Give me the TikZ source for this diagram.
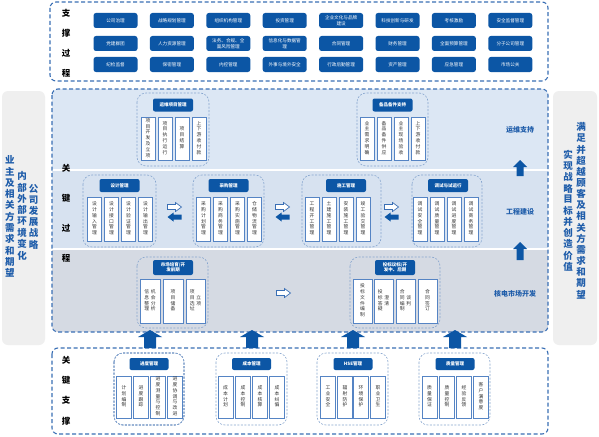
\documentclass[tikz,border=0pt]{standalone}
\usepackage{fontspec}
\setmainfont{Noto Sans CJK SC}
\definecolor{btnblue}{HTML}{0C56A5}
\definecolor{txtblue}{HTML}{1F5DAA}
\definecolor{grpline}{HTML}{86A5CE}
\definecolor{outline}{HTML}{3A6FB5}
\definecolor{colline}{HTML}{5584C4}
\definecolor{bandA}{HTML}{DCE7F4}
\definecolor{bandB}{HTML}{D7E2F0}
\definecolor{bandC}{HTML}{D5DAE3}
\definecolor{sidegray}{HTML}{EFEFEF}
\definecolor{coltext}{HTML}{333333}
\ExplSyntaxOn
\NewDocumentCommand\vtext{m}{
  \tl_set:Nx \l_tmpa_tl {#1}
  \tl_clear:N \l_tmpb_tl
  \tl_map_inline:Nn \l_tmpa_tl
    { \tl_if_empty:NF \l_tmpb_tl { \tl_put_right:Nn \l_tmpb_tl {\\} }
      \tl_put_right:Nn \l_tmpb_tl {##1} }
  \begin{tabular}{@{}c@{}} \l_tmpb_tl \end{tabular}
}
\ExplSyntaxOff
\newcommand\arrup[6]{% x, tip y, bottom y, head half, stem half, style
  \path[#6] (#1,#2) -- ({#1+#4},{#2+7}) -- ({#1+#5},{#2+7}) -- ({#1+#5},#3)
    -- ({#1-#5},#3) -- ({#1-#5},{#2+7}) -- ({#1-#4},{#2+7}) -- cycle;}
\newcommand\arrh[4]{% x center, y center, direction, style
  \path[#4] ({#1+7*(#3)},#2) -- ({#1+1*(#3)},{#2-4.5}) -- ({#1+1*(#3)},{#2-2.5})
    -- ({#1-7*(#3)},{#2-2.5}) -- ({#1-7*(#3)},{#2+2.5}) -- ({#1+1*(#3)},{#2+2.5})
    -- ({#1+1*(#3)},{#2+4.5}) -- cycle;}
\begin{document}
\begin{tikzpicture}[x=1pt,y=-1pt,
  btn/.style={fill=btnblue, rounded corners=2.5pt, text=white, font=\fontsize{4.6}{5.6}\selectfont, minimum width=44pt, minimum height=15pt, inner sep=0pt, align=center},
  hdr/.style={fill=btnblue, rounded corners=2pt, text=white, font=\fontsize{4.5}{5.5}\selectfont\bfseries, minimum width=40pt, minimum height=13pt, inner sep=0pt, align=center},
  colbox/.style={draw=colline, line width=0.8pt, fill=white, text=coltext, font=\fontsize{4.8}{5.8}\selectfont, inner sep=0pt, align=center},
  grp/.style={draw=grpline, line width=0.6pt, dash pattern=on 2pt off 1.5pt, rounded corners=9pt},
  outerbox/.style={draw=outline, line width=1.1pt, dash pattern=on 4pt off 2.5pt, rounded corners=6pt},
  lbl/.style={font=\fontsize{8.5}{10}\selectfont\bfseries, text=black, inner sep=0pt},
  bandlbl/.style={font=\fontsize{7}{8}\selectfont\bfseries, text=txtblue, inner sep=0pt},
  side/.style={font=\fontsize{9.5}{10.8}\selectfont\bfseries, text=txtblue, inner sep=0pt, align=center},
  arrfill/.style={fill=btnblue},
  arrout/.style={draw=outline, fill=white, line width=0.7pt},
]
\useasboundingbox[fill=white] (0,0) rectangle (599,436);

% side panels
\fill[sidegray, rounded corners=6pt] (2,91) rectangle (45,345);
\fill[sidegray, rounded corners=6pt] (553,91) rectangle (597,345);
\node[side] (sl1) at (10,218) {\vtext{业主及相关方需求和期望}};
\node[side] (sl2) at (22,217) {\vtext{内部外部环境变化}};
\node[side] (sl3) at (33.5,218) {\vtext{公司发展战略}};
\begin{scope}[side/.append style={font=\fontsize{9.5}{10.3}\selectfont\bfseries}]
\node[side] (sr1) at (581,212) {\vtext{满足并超越顾客及相关方需求和期望}};
\node[side] (sr2) at (568,212) {\vtext{实现战略目标并创造价值}};
\end{scope}

% ===== support processes =====
\draw[outerbox] (50,2) rectangle (548,81);
\foreach \t/\y [count=\i] in {支/13,撑/33,过/53,程/73}
  \node[lbl] (sp\i) at (66,\y) {\t};
\foreach \t [count=\i from 0] in {公司治理,战略规划管理,组织机构管理,投资管理,{企业文化与品牌\\建设},科技创新与研发,考核激励,安全监督管理}
  \node[btn] (sa\i) at ({115.5+56.4*\i},20.5) {\t};
\foreach \t [count=\i from 0] in {党建群团,人力资源管理,{法务、合规、全\\面风险管理},{信息化与数据管\\理},合同管理,财务管理,全面预算管理,分子公司管理}
  \node[btn] (sb\i) at ({115.5+56.4*\i},43.5) {\t};
\foreach \t [count=\i from 0] in {纪检监督,保密管理,内控管理,外事与境外安全,行政后勤管理,资产管理,应急管理,市场公关}
  \node[btn] (sc\i) at ({115.5+56.4*\i},64.5) {\t};

% ===== key processes =====
\begin{scope}
\clip[rounded corners=6pt] (52,89) rectangle (548,332);
\fill[bandA] (52,89) rectangle (548,169);
\fill[bandB] (52,171) rectangle (548,248);
\fill[bandC] (52,250) rectangle (548,332);
\end{scope}
\draw[outerbox] (52,89) rectangle (548,332);
\foreach \t/\y [count=\i] in {关/168,键/198,过/228,程/258}
  \node[lbl] (kp\i) at (66,\y) {\t};
\node[bandlbl] (bl1) at (520,130) {运维支持};
\node[bandlbl] (bl2) at (520,212) {工程建设};
\node[bandlbl] (bl3) at (515,294) {核电市场开发};
\arrup{520}{160}{176}{7}{3.5}{arrfill}
\arrup{520}{242}{260}{7}{3.5}{arrfill}

% band 1
\draw[grp] (137,93) rectangle (209,166);
\draw[grp] (357,93) rectangle (428,166);
\node[hdr] (h1) at (173,105) {运维项目管理};
\node[hdr] (h2) at (392.5,105) {备品备件支持};
\foreach \x/\t [count=\i] in {148/项目开发及立项,165/项目执行运行,182/项目结算,199/上下游收付款}
  \node[colbox, minimum width=14pt, minimum height=43pt] (ya\i) at (\x,138.5) {\vtext{\t}};
\foreach \x/\t [count=\i] in {367/业主需求明确,384/备品备件供应,401/业主现场验收,418/上下游收付款}
  \node[colbox, minimum width=14pt, minimum height=43pt] (yb\i) at (\x,138.5) {\vtext{\t}};

% band 2
\draw[grp] (83,175) rectangle (156,247);
\draw[grp] (193,175) rectangle (264,247);
\draw[grp] (302,175) rectangle (381,247);
\draw[grp] (412,175) rectangle (482,247);
\node[hdr] (h3) at (119.5,185.5) {设计管理};
\node[hdr] (h4) at (228.5,185.5) {采购管理};
\node[hdr] (h5) at (346,185.5) {施工管理};
\node[hdr] (h6) at (448,185.5) {调试与试运行};
\foreach \x/\t [count=\i] in {94.5/设计输入管理,111.5/设计接口管理,128.5/设计验证管理,145.5/设计输出管理}
  \node[colbox, minimum width=14pt, minimum height=44pt] (ga\i) at (\x,219) {\vtext{\t}};
\foreach \x/\t [count=\i] in {203.5/采购计划管理,220.5/采购商务管理,237.5/采购实施管理,254.5/仓储物流管理}
  \node[colbox, minimum width=14pt, minimum height=44pt] (gb\i) at (\x,219) {\vtext{\t}};
\foreach \x/\t [count=\i] in {312/工程开工管理,329/土建施工管理,346/安装施工管理,363/竣工验交管理}
  \node[colbox, minimum width=14pt, minimum height=44pt] (gc\i) at (\x,219) {\vtext{\t}};
\foreach \x/\t [count=\i] in {420/调试安全管理,437/调试质量管理,454/调试进度管理,471/调试商务管理}
  \node[colbox, minimum width=14pt, minimum height=44pt] (gd\i) at (\x,219) {\vtext{\t}};
\foreach \x in {174.5,282.5,391.5}{
  \arrh{\x}{207}{1}{arrout}
  \arrh{\x}{217}{-1}{arrfill}
}

% band 3
\draw[grp] (137,257) rectangle (208,328);
\draw[grp] (350,257) rectangle (440,328);
\node[hdr, minimum height=15pt] (h7) at (173,267.5) {市场培育/开\\发前期};
\node[hdr, minimum height=15pt] (h8) at (395,267.5) {投标议标/开\\发中、后期};
\node[colbox, minimum width=20pt, minimum height=44pt] (ma1) at (150,301) {\vtext{信息整理}\hspace{1.5pt}\vtext{机会分析}};
\node[colbox, minimum width=20pt, minimum height=44pt] (ma2) at (173,301) {\vtext{项目储备}};
\node[colbox, minimum width=19pt, minimum height=44pt] (ma3) at (195.5,301) {\vtext{项目选址}\hspace{1.5pt}\vtext{立项}};
\node[colbox, minimum width=19pt, minimum height=44pt] (mb1) at (362.5,301) {\vtext{投标文件编制}};
\node[colbox, minimum width=19pt, minimum height=44pt] (mb2) at (383.5,301) {\vtext{投标答疑}\hspace{1.5pt}\vtext{澄清}};
\node[colbox, minimum width=19pt, minimum height=44pt] (mb3) at (405.5,301) {\vtext{合同编制}\hspace{1.5pt}\vtext{谈判}};
\node[colbox, minimum width=19pt, minimum height=44pt] (mb4) at (427.5,301) {\vtext{合同签订}};
\arrh{283.5}{293}{1}{arrout}

% ===== key supports =====
\draw[outerbox] (52,348) rectangle (548,434);
\foreach \t/\y [count=\i] in {关/360,键/380,支/400,撑/421}
  \node[lbl] (ks\i) at (66,\y) {\t};
\foreach \x in {150,252,353,455}
  \arrup{\x}{330}{348}{12}{6}{arrfill}
\draw[grp] (114,353) rectangle (184,425);
\draw[grp] (216,353) rectangle (287,425);
\draw[grp] (317,353) rectangle (388,425);
\draw[grp] (419,353) rectangle (490,425);
\node[hdr, minimum width=39pt, minimum height=12pt] (h9) at (149,364) {进度管理};
\node[hdr, minimum width=39pt, minimum height=12pt] (h10) at (251.5,364) {成本管理};
\node[hdr, minimum width=39pt, minimum height=12pt] (h11) at (353,364) {HSE管理};
\node[hdr, minimum width=39pt, minimum height=12pt] (h12) at (455,364) {质量管理};
\foreach \x/\t [count=\i] in {124/计划编制,141/进度跟踪,158/进度测量与控制,175/进度协调与改进}
  \node[colbox, minimum width=15pt, minimum height=42pt] (za\i) at (\x,397) {\vtext{\t}};
\foreach \x/\t [count=\i] in {225.5/成本计划,243/成本控制,260/成本核算,277/成本纠偏}
  \node[colbox, minimum width=15pt, minimum height=42pt] (zb\i) at (\x,397) {\vtext{\t}};
\foreach \x/\t [count=\i] in {328/工业安全,345/辐射防护,361/环境保护,378/职业卫生}
  \node[colbox, minimum width=15pt, minimum height=42pt] (zc\i) at (\x,397) {\vtext{\t}};
\foreach \x/\t [count=\i] in {429.5/质量保证,447/质量控制,464/经验反馈,481/客户满意度}
  \node[colbox, minimum width=15pt, minimum height=42pt] (zd\i) at (\x,397) {\vtext{\t}};
\end{tikzpicture}
\end{document}
